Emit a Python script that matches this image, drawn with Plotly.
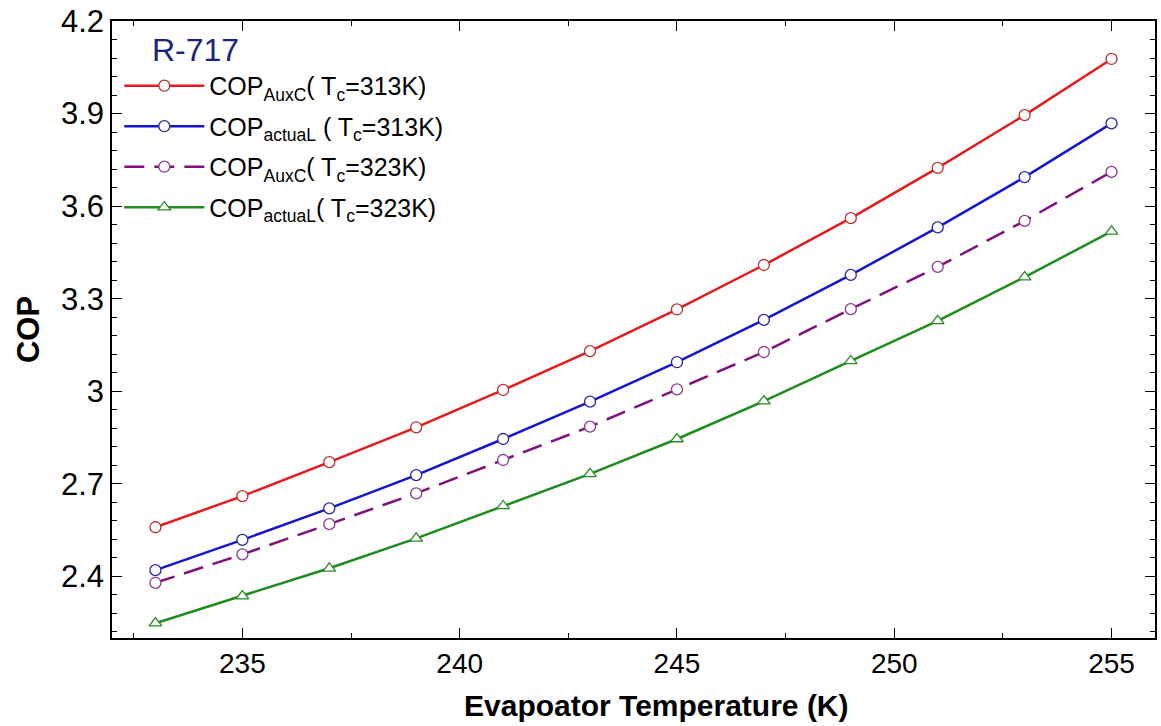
import plotly.graph_objects as go

# ---- data ----
evap_temp = [233, 235, 237, 239, 241, 243, 245, 247, 249, 251, 253, 255]
cop_auxc_313 = [2.559, 2.660, 2.770, 2.883, 3.004, 3.130, 3.265, 3.409, 3.561, 3.724, 3.895, 4.077]
cop_actual_313 = [2.420, 2.518, 2.620, 2.728, 2.845, 2.966, 3.094, 3.231, 3.377, 3.531, 3.694, 3.868]
cop_auxc_323 = [2.379, 2.471, 2.569, 2.669, 2.777, 2.885, 3.006, 3.127, 3.266, 3.403, 3.552, 3.711]
cop_actual_323 = [2.248, 2.336, 2.426, 2.523, 2.628, 2.732, 2.845, 2.968, 3.098, 3.228, 3.370, 3.518]

series_names = [
    "COP<sub>AuxC</sub>( T<sub>c</sub>=313K)",
    "COP<sub>actuaL</sub> ( T<sub>c</sub>=313K)",
    "COP<sub>AuxC</sub>( T<sub>c</sub>=323K)",
    "COP<sub>actuaL</sub>( T<sub>c</sub>=323K)",
]
y_ticks = [2.4, 2.7, 3.0, 3.3, 3.6, 3.9, 4.2]
y_tick_text = ["2.4", "2.7", "3", "3.3", "3.6", "3.9", "4.2"]
x_ticks = [235, 240, 245, 250, 255]

FONT = "Liberation Sans, Arial, sans-serif"

styles = [
    dict(color="#e41a1c", mline="#b8302e", dash="solid", symbol="circle"),
    dict(color="#1515d0", mline="#2a2a9a", dash="solid", symbol="circle"),
    dict(color="#80107e", mline="#8a3a92", dash="20px,10px", symbol="circle"),
    dict(color="#1f8c1f", mline="#2a8a2a", dash="solid", symbol="triangle-up"),
]

fig = go.Figure()
for i, (name, ys) in enumerate(zip(series_names, [cop_auxc_313, cop_actual_313, cop_auxc_323, cop_actual_323])):
    s = styles[i]
    fig.add_trace(go.Scatter(
        x=evap_temp, y=ys, name=name, mode="lines+markers",
        legendgroup=f"g{i}",
        line=dict(color=s["color"], width=2.5, dash=s["dash"]),
        marker=dict(symbol=s["symbol"], size=11, color="white",
                    line=dict(color=s["mline"], width=1.3)),
    ))

axis_common = dict(
    showline=True, linecolor="black", linewidth=1.5, mirror="allticks",
    ticks="inside", tickcolor="black", tickwidth=1.2, ticklen=10,
    showgrid=False, zeroline=False,
)

fig.update_xaxes(
    range=[232, 256], tickvals=x_ticks,
    tickfont=dict(family=FONT, size=28, color="black"),
    minor=dict(dtick=2.5, tick0=232.5, ticks="inside", ticklen=5, tickcolor="black", tickwidth=1.2),
    **axis_common,
)
fig.update_yaxes(
    range=[2.2, 4.2], tickvals=y_ticks, ticktext=y_tick_text,
    tickfont=dict(family=FONT, size=31, color="black"),
    minor=dict(dtick=0.06, tick0=2.4, ticks="inside", ticklen=5, tickcolor="black", tickwidth=1.2),
    title=dict(text="<b>COP</b>", font=dict(family=FONT, size=31, color="black"), standoff=12),
    **axis_common,
)

# x-axis title (offset to the right, as in the reference)
fig.add_annotation(
    text="<b>Evapoator Temperature (K)</b>", xref="paper", yref="paper",
    x=0.522, y=-0.110, xanchor="center", yanchor="middle", showarrow=False,
    font=dict(family=FONT, size=30, color="black"),
)

fig.add_annotation(
    text="R-717", xref="paper", yref="paper", x=0.036, y=0.953,
    xanchor="left", yanchor="middle", showarrow=False,
    font=dict(family=FONT, size=32, color="#1a237e"),
)

fig.update_layout(
    width=1161, height=726,
    margin=dict(l=112, r=4, t=21, b=88),
    paper_bgcolor="white", plot_bgcolor="white",
    showlegend=True,
    legend=dict(
        x=0.007, y=0.932, xanchor="left", yanchor="top",
        bgcolor="rgba(0,0,0,0)", borderwidth=0,
        font=dict(family=FONT, size=25, color="black"),
        itemwidth=80, tracegroupgap=5,
    ),
)

fig.write_html("out.html")
